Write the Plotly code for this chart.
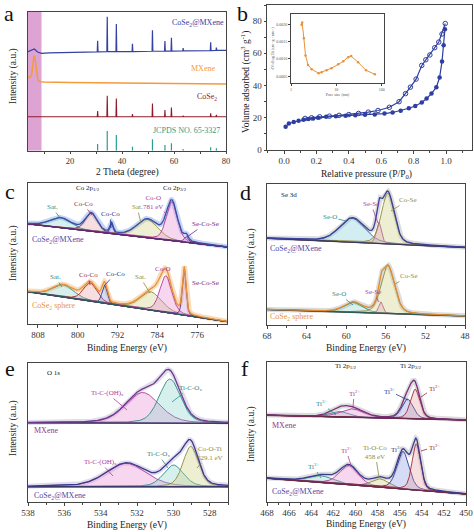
import numpy as np
import plotly.graph_objects as go

W, H = 474, 532
SERIF = "Liberation Serif"

# ---------------- (a) XRD data ----------------
xrd_cm_x = [3.8, 5.0, 6.2, 7.5, 9.0, 12.0, 20.0, 30.45, 30.6, 30.75, 34.15, 34.3, 34.45, 37.65, 37.8, 37.95,
            43.85, 44.0, 44.15, 51.55, 51.7, 51.85, 56.35, 56.5, 56.65, 58.85, 59.0, 59.15, 63.35, 63.5, 63.65,
            73.95, 74.1, 74.25, 76.15, 76.3, 76.45, 80.0]
xrd_cm_y = [71.4, 72.5, 73.3, 71.2, 70.2, 70.6, 71.0, 71.3, 79.2, 71.3, 71.4, 96.6, 71.4, 71.4, 91.4, 71.4,
            71.5, 77.0, 71.5, 71.7, 86.8, 71.7, 71.8, 79.0, 71.8, 71.8, 81.4, 71.8, 71.9, 73.9, 71.9,
            72.2, 78.2, 72.2, 72.3, 74.3, 72.3, 72.4]
xrd_mx_x = [3.8, 4.5, 5.2, 5.7, 6.1, 6.5, 7.0, 7.6, 8.5, 10.0, 20.0, 40.0, 60.0, 80.0]
xrd_mx_y = [53.4, 52.5, 55.0, 62.0, 68.7, 66.5, 58.0, 51.0, 49.8, 49.5, 49.1, 48.7, 48.4, 48.1]
xrd_cs_x = [3.8, 30.45, 30.6, 30.75, 34.15, 34.3, 34.45, 37.65, 37.8, 37.95, 43.85, 44.0, 44.15, 51.55, 51.7, 51.85,
            56.35, 56.5, 56.65, 58.85, 59.0, 59.15, 63.35, 63.5, 63.65, 73.95, 74.1, 74.25, 76.15, 76.3, 76.45, 80.0]
xrd_cs_y = [24.5, 24.5, 28.6, 24.5, 24.5, 39.6, 24.5, 24.5, 37.7, 24.5, 24.5, 26.4, 24.5, 24.5, 34.1, 24.5,
            24.5, 29.3, 24.5, 24.5, 31.2, 24.5, 24.5, 25.2, 24.5, 24.5, 26.9, 24.5, 24.5, 25.9, 24.5, 24.5]
pdf_pos = [30.6, 34.3, 37.8, 44.0, 51.7, 56.5, 59.0, 63.5, 74.1, 76.3]
pdf_h = [4.8, 14.2, 11.3, 2.9, 8.2, 4.1, 5.3, 1.2, 2.4, 1.7]

# ---------------- (b) BET data ----------------
ads_x = [0.01, 0.03, 0.06, 0.09, 0.12, 0.15, 0.18, 0.21, 0.26, 0.32, 0.38, 0.44, 0.5, 0.56, 0.62, 0.67,
         0.72, 0.77, 0.81, 0.85, 0.88, 0.91, 0.94, 0.96, 0.975, 0.985, 0.993]
ads_y = [14.5, 16.5, 17.4, 18.1, 18.7, 19.2, 19.6, 20.0, 20.6, 21.0, 21.3, 21.6, 21.9, 22.1, 22.6, 23.3,
         24.4, 25.9, 27.3, 29.5, 32.0, 35.0, 39.0, 45.0, 55.0, 65.0, 75.0]
des_x = [0.995, 0.975, 0.955, 0.93, 0.9, 0.875, 0.85, 0.815, 0.78, 0.75, 0.71, 0.65, 0.58, 0.52, 0.46,
         0.4, 0.34, 0.28, 0.22, 0.17, 0.13]
des_y = [78.5, 72.0, 67.0, 63.5, 59.0, 56.0, 52.5, 44.0, 39.0, 35.0, 30.0, 26.5, 24.5, 23.5, 22.7,
         22.0, 21.5, 21.0, 20.6, 20.0, 19.6]
pore_d = [1.71, 1.76, 1.92, 2.09, 2.38, 2.86, 4.06, 4.72, 6.06, 7.79, 11.0, 14.2, 18.2, 21.2, 30.1, 44.9, 70.5]
pore_v = [0.00199, 0.00205, 0.00160, 0.00110, 0.00082, 0.00070, 0.00058, 0.00061, 0.00067, 0.00073,
          0.00084, 0.00093, 0.00105, 0.00108, 0.00090, 0.00067, 0.00055]

# ---------------- XPS fitted components (centre eV, height, FWHM) ----------------
c_top_pos = [803.5, 797.3, 793.2, 786.0, 781.1, 778.2]
c_top_h = [7.0, 12.8, 7.0, 13.0, 27.5, 4.0]
c_top_w = [5.0, 2.8, 0.8, 5.0, 2.6, 1.0]
c_top_bg = [71.0, 54.6]
c_bot_pos = [802.9, 797.5, 794.6, 785.3, 782.3, 778.6]
c_bot_h = [8.7, 13.0, 12.9, 13.0, 26.0, 33.0]
c_bot_w = [5.0, 3.2, 1.2, 5.0, 2.8, 0.9]
c_bot_bg = [22.9, 1.7]

d_top_pos = [59.4, 56.7, 55.8]
d_top_h = [17.0, 15.0, 36.0]
d_top_w = [3.0, 0.6, 1.5]
d_top_bg = [61.5, 55.0]
d_bot_pos = [59.3, 56.5, 55.8]
d_bot_h = [7.0, 8.0, 34.0]
d_bot_w = [2.2, 0.5, 1.6]
d_bot_bg = [11.0, 6.4]

e_top_pos = [531.7, 530.2]
e_top_h = [22.0, 31.7]
e_top_w = [2.2, 1.4]
e_top_bg = [57.0, 56.6]
e_bot_pos = [532.6, 530.0, 529.05]
e_bot_h = [16.8, 15.6, 29.0]
e_bot_w = [2.6, 1.3, 1.0]
e_bot_bg = [11.0, 11.0]

f_top_pos = [461.5, 460.3, 455.3, 454.6]
f_top_h = [4.0, 6.0, 14.0, 21.0]
f_top_w = [2.0, 2.5, 1.2, 1.0]
f_top_bg = [62.0, 58.6]
f_bot_pos = [463.2, 460.6, 457.8, 455.7, 454.5]
f_bot_h = [5.0, 13.7, 6.0, 26.8, 33.0]
f_bot_w = [2.5, 2.0, 1.8, 1.3, 0.9]
f_bot_bg = [17.0, 5.7]

# colours (line, fill)
TEAL = ("#2E8B85", "rgba(120,205,200,0.30)")
RED = ("#A0283C", "rgba(230,150,150,0.30)")
NAVY = ("#2B3990", "rgba(120,140,225,0.30)")
OLIVE = ("#8C8C3C", "rgba(205,205,130,0.35)")
MAG = ("#B03A9A", "rgba(232,140,212,0.35)")
PURP = ("#6A2A8A", "rgba(190,140,220,0.30)")
SEO = ("#2A5F8F", "rgba(110,200,215,0.30)")

fig = go.Figure()


def pv(x, c, h, w, m=0.3):
    t = (x - c) / w
    return h * ((1 - m) * np.exp(-4 * np.log(2) * t * t) + m / (1 + 4 * t * t))


def spectrum(xa, ya, xr, bg, pos, hts, wid, cols, env, halo, bgc):
    x = np.linspace(xr[0], xr[1], 700)
    base = bg[0] + (bg[1] - bg[0]) * (x - xr[0]) / (xr[1] - xr[0])
    total = base.copy()
    comps = []
    for c, h, w in zip(pos, hts, wid):
        p = pv(x, c, h, w)
        comps.append(p)
        total = total + p
    fig.add_trace(go.Scatter(x=x, y=total, mode="lines", line=dict(color=halo, width=5),
                             xaxis=xa, yaxis=ya, hoverinfo="skip"))
    for p, col in zip(comps, cols):
        fig.add_trace(go.Scatter(x=np.concatenate([x, x[::-1]]), y=np.concatenate([base + p, base[::-1]]),
                                 mode="lines", fill="toself", fillcolor=col[1],
                                 line=dict(color=col[0], width=0.9), xaxis=xa, yaxis=ya, hoverinfo="skip"))
    fig.add_trace(go.Scatter(x=x, y=base, mode="lines", line=dict(color=bgc, width=1.4),
                             xaxis=xa, yaxis=ya, hoverinfo="skip"))
    fig.add_trace(go.Scatter(x=x, y=total, mode="lines", line=dict(color=env, width=1.3),
                             xaxis=xa, yaxis=ya, hoverinfo="skip"))


# ---- (a)
fig.add_trace(go.Scatter(x=xrd_cm_x, y=xrd_cm_y, mode="lines", line=dict(color="#3442A0", width=1.2), xaxis="x", yaxis="y"))
fig.add_trace(go.Scatter(x=xrd_mx_x, y=xrd_mx_y, mode="lines", line=dict(color="#F39A3C", width=1.5), xaxis="x", yaxis="y"))
fig.add_trace(go.Scatter(x=xrd_cs_x, y=xrd_cs_y, mode="lines", line=dict(color="#8E1C2C", width=1.1), xaxis="x", yaxis="y"))
sx, sy = [], []
for p, h in zip(pdf_pos, pdf_h):
    sx += [p, p, None]
    sy += [0, h, None]
fig.add_trace(go.Scatter(x=sx, y=sy, mode="lines", line=dict(color="#2A9D8F", width=1.2), xaxis="x", yaxis="y"))

# ---- (b)
fig.add_trace(go.Scatter(x=ads_x, y=ads_y, mode="lines+markers", line=dict(color="#2F3FA0", width=1.2),
                         marker=dict(symbol="circle", size=4.5, color="#2F3FA0"), xaxis="x2", yaxis="y2"))
fig.add_trace(go.Scatter(x=des_x, y=des_y, mode="lines+markers", line=dict(color="#2F3FA0", width=1.2),
                         marker=dict(symbol="circle-open", size=4.5, color="#2F3FA0", line=dict(width=1)),
                         xaxis="x2", yaxis="y2"))
fig.add_trace(go.Scatter(x=pore_d, y=pore_v, mode="lines+markers", line=dict(color="#E8923A", width=1),
                         marker=dict(size=2.5, color="#E8923A"), xaxis="x7", yaxis="y7"))

# ---- XPS panels
spectrum("x3", "y3", [810, 770], c_top_bg, c_top_pos, c_top_h, c_top_w, [TEAL, RED, NAVY, OLIVE, MAG, PURP],
         "#3B4BA6", "rgba(150,180,235,0.55)", "#5A2A6A")
spectrum("x3", "y3", [810, 770], c_bot_bg, c_bot_pos, c_bot_h, c_bot_w, [TEAL, RED, NAVY, OLIVE, MAG, PURP],
         "#E8913A", "rgba(245,185,120,0.5)", "#2F5A5A")
spectrum("x4", "y4", [68, 48], d_top_bg, d_top_pos, d_top_h, d_top_w, [SEO, MAG, OLIVE],
         "#3B3F9E", "rgba(185,185,185,0.5)", "#3A3A5A")
spectrum("x4", "y4", [68, 48], d_bot_bg, d_bot_pos, d_bot_h, d_bot_w, [TEAL, MAG, OLIVE],
         "#E08A30", "rgba(185,185,185,0.5)", "#2F5A5A")
spectrum("x5", "y5", [538, 527], e_top_bg, e_top_pos, e_top_h, e_top_w, [MAG, TEAL],
         "#6B3A8E", "rgba(195,185,215,0.5)", "#5A2A6A")
spectrum("x5", "y5", [538, 527], e_bot_bg, e_bot_pos, e_bot_h, e_bot_w, [MAG, TEAL, OLIVE],
         "#3A3A8E", "rgba(195,185,215,0.5)", "#3A3A6A")
spectrum("x6", "y6", [468, 450], f_top_bg, f_top_pos, f_top_h, f_top_w, [TEAL, MAG, NAVY, RED],
         "#7A2F7A", "rgba(185,185,185,0.5)", "#6A2A4A")
spectrum("x6", "y6", [468, 450], f_bot_bg, f_bot_pos, f_bot_h, f_bot_w, [TEAL, MAG, OLIVE, NAVY, RED],
         "#3A3A8E", "rgba(185,185,185,0.5)", "#6A2A4A")


# ---------------- layout ----------------
def dom(p0, p1):
    return [p0 / W, p1 / W]


def vdom(top, bot):
    return [1 - bot / H, 1 - top / H]


TF = dict(family=SERIF, size=9, color="#333")


def xax(domain, anchor, rng, **kw):
    d = dict(domain=domain, anchor=anchor, range=rng, showline=True, linecolor="#444", linewidth=1, mirror=True,
             showgrid=False, zeroline=False, ticks="outside", ticklen=2.5, tickcolor="#444", tickfont=TF)
    d.update(kw)
    return d


def yax_blank(domain, anchor):
    return dict(domain=domain, anchor=anchor, range=[0, 100], showline=True, linecolor="#444", linewidth=1,
                mirror=True, showgrid=False, zeroline=False, showticklabels=False, ticks="")


MINOR = lambda dt: dict(ticks="outside", ticklen=1.8, dtick=dt, tickcolor="#444")

layout = dict(
    width=W, height=H, margin=dict(l=0, r=0, t=0, b=0, autoexpand=False), showlegend=False,
    paper_bgcolor="white", plot_bgcolor="white",
    xaxis=xax(dom(28, 226), "y", [3.8, 80], tickvals=[20, 40, 60, 80], minor=MINOR(10),
              tickfont=dict(family=SERIF, size=8.5, color="#333")),
    yaxis=yax_blank(vdom(12, 150.7), "x"),
    xaxis2=xax(dom(267, 472), "y2", [-0.105, 1.16], tickvals=[0, 0.2, 0.4, 0.6, 0.8, 1.0],
               ticktext=["0.0", "0.2", "0.4", "0.6", "0.8", "1.0"], minor=MINOR(0.1)),
    yaxis2=xax(vdom(5, 150), "x2", [0, 90], tickvals=[0, 20, 40, 60, 80], minor=MINOR(10)),
    xaxis3=xax(dom(28, 227), "y3", [810, 770], tickvals=[808, 800, 792, 784, 776], minor=MINOR(4)),
    yaxis3=yax_blank(vdom(183, 324), "x3"),
    xaxis4=xax(dom(267, 465), "y4", [68, 48], tickvals=[68, 64, 60, 56, 52, 48], minor=MINOR(2)),
    yaxis4=yax_blank(vdom(184, 325), "x4"),
    xaxis5=xax(dom(28, 228), "y5", [538, 527], tickvals=[538, 536, 534, 532, 530, 528], minor=MINOR(1)),
    yaxis5=yax_blank(vdom(363, 502), "x5"),
    xaxis6=xax(dom(267, 466), "y6", [468, 450], tickvals=list(range(468, 449, -2)), minor=MINOR(1)),
    yaxis6=yax_blank(vdom(362, 502), "x6"),
    xaxis7=xax(dom(291, 384), "y7", [0, 2.05], type="log", tickvals=[1, 10, 100], ticktext=["1", "10", "100"],
               ticklen=2, tickfont=dict(family=SERIF, size=4, color="#555"), linewidth=0.8,
               title=dict(text="Pore size (nm)", font=dict(family=SERIF, size=4, color="#555"), standoff=1)),
    yaxis7=xax(vdom(14, 83), "x7", [0.0003, 0.0023], tickvals=[0.0005, 0.001, 0.0015, 0.002],
               ticktext=["0.0005", "0.0010", "0.0015", "0.0020"], ticklen=2, linewidth=0.8,
               tickfont=dict(family=SERIF, size=4, color="#555"),
               title=dict(text="dV/dlog(D) (cm<sup>3</sup> g<sup>-1</sup> nm<sup>-1</sup>)",
                          font=dict(family=SERIF, size=4, color="#555"), standoff=1)),
)

ann = []


def lab(text, px, py, color="#222", size=7, tip=None, xanchor="center", angle=0):
    d = dict(text=text, xref="paper", yref="paper", font=dict(family=SERIF, size=size, color=color),
             xanchor=xanchor, yanchor="middle", textangle=angle)
    if tip is not None:
        d.update(x=tip[0] / W, y=1 - tip[1] / H, ax=px - tip[0], ay=py - tip[1], axref="pixel", ayref="pixel",
                 showarrow=True, arrowhead=0, arrowwidth=0.8, arrowcolor=color, standoff=0, startstandoff=0)
    else:
        d.update(x=px / W, y=1 - py / H, showarrow=False)
    ann.append(d)


# panel letters
for t, px, py in [("a", 9, 14), ("b", 243, 14), ("c", 10, 191), ("d", 245, 192), ("e", 10, 368), ("f", 245, 368)]:
    lab(t, px, py, "#111", 22)

# axis titles
lab("2 Theta (degree)", 127, 172.5, "#222", 9.5)
lab("Relative pressure (P/P<sub>0</sub>)", 366, 174, "#222", 9.5)
lab("Binding Energy (eV)", 127, 348, "#222", 9.5)
lab("Binding Energy (eV)", 366, 348, "#222", 9.5)
lab("Binding Energy (eV)", 127, 525, "#222", 9.5)
lab("Binding Energy (eV)", 366, 524, "#222", 9.5)
lab("Intensity (a.u.)", 14, 76, "#222", 9.5, angle=-90)
lab("Volume adsorbed (cm<sup>3</sup> g<sup>-1</sup>)", 245, 82, "#222", 9.5, angle=-90)
lab("Intensity (a.u.)", 13, 253, "#222", 9.5, angle=-90)
lab("Intensity (a.u.)", 251, 256, "#222", 9.5, angle=-90)
lab("Intensity (a.u.)", 13, 428, "#222", 9.5, angle=-90)
lab("Intensity (a.u.)", 251, 434, "#222", 9.5, angle=-90)

# (a) labels
lab("CoSe<sub>2</sub>@MXene", 198, 23, "#3442A0", 8)
lab("MXene", 203, 68, "#F39A3C", 8)
lab("CoSe<sub>2</sub>", 207, 97, "#8E1C2C", 8)
lab("JCPDS NO. 65-3327", 186, 130, "#2A9D8F", 8)

# (c) labels
lab("Co 2p<sub>1/2</sub>", 88, 188, "#222", 7)
lab("Co 2p<sub>3/2</sub>", 175, 188, "#222", 7)
lab("Sat.", 52, 207, TEAL[0], 7, tip=(60, 218))
lab("Co-Co", 83, 204, RED[0], 7, tip=(92, 215))
lab("Co-Co", 110, 214, NAVY[0], 7, tip=(111, 228))
lab("Sat.", 137, 207, OLIVE[0], 7, tip=(141, 223))
lab("Co-O<br>781 eV", 153, 202, MAG[0], 7, tip=(165, 213))
lab("Se-Co-Se", 205, 224, PURP[0], 7, tip=(187, 237))
lab("CoSe<sub>2</sub>@MXene", 30, 240, "#4A4AA8", 8, xanchor="left")
lab("Sat.", 55, 277, TEAL[0], 7, tip=(62, 287))
lab("Co-Co", 88, 275, RED[0], 7, tip=(90, 285))
lab("Co-Co", 115, 274, NAVY[0], 7, tip=(104, 286))
lab("Sat.", 140, 277, OLIVE[0], 7, tip=(150, 293))
lab("Co-O", 163, 269, MAG[0], 7)
lab("Se-Co-Se", 205, 283, PURP[0], 7, tip=(190, 287))
lab("CoSe<sub>2</sub> sphere", 30, 306, "#E8963A", 8, xanchor="left")

# (d) labels
lab("Se 3d", 289, 195, "#222", 7)
lab("Se-O", 330, 217, TEAL[0], 7, tip=(346, 221))
lab("Se-Se", 371, 204, MAG[0], 7, tip=(378, 223))
lab("Co-Se", 408, 200, OLIVE[0], 7, tip=(391, 211))
lab("CoSe<sub>2</sub>@MXene", 268, 249, "#4A4AA8", 8, xanchor="left")
lab("Se-O", 339, 294, TEAL[0], 7, tip=(353, 305))
lab("Se-Se", 373, 292, MAG[0], 7, tip=(379, 302))
lab("Co-Se", 409, 276, OLIVE[0], 7, tip=(395, 284))
lab("CoSe<sub>2</sub> sphere", 268, 317, "#E8963A", 8, xanchor="left")

# (e) labels
lab("O 1s", 53, 373, "#222", 7)
lab("Ti-C-(OH)<sub>x</sub>", 107, 393, MAG[0], 7, tip=(127, 410))
lab("Ti-C-O<sub>x</sub>", 190, 388, TEAL[0], 7, tip=(172, 402))
lab("MXene", 32, 430, "#8A3A8A", 8, xanchor="left")
lab("Ti-C-(OH)<sub>x</sub>", 100, 462, MAG[0], 7, tip=(113, 476))
lab("Ti-C-O<sub>x</sub>", 158, 454, TEAL[0], 7, tip=(168, 468))
lab("Co-O-Ti<br>529.1 eV", 210, 453, OLIVE[0], 7, tip=(197, 468))
lab("CoSe<sub>2</sub>@MXene", 32, 496, "#4A4AA8", 8, xanchor="left")

# (f) labels
lab("Ti 2p<sub>1/2</sub>", 346, 366, "#222", 7)
lab("Ti 2p<sub>3/2</sub>", 411, 366, "#222", 7)
lab("Ti<sup>3+</sup>", 321, 403, TEAL[0], 7, tip=(336, 415))
lab("Ti<sup>2+</sup>", 354, 393, MAG[0], 7, tip=(353, 408))
lab("Ti<sup>3+</sup>", 389, 391, NAVY[0], 7, tip=(408, 400))
lab("Ti<sup>2+</sup>", 434, 388, RED[0], 7, tip=(421, 397))
lab("MXene", 270, 425, "#8A3A8A", 8, xanchor="left")
lab("Ti<sup>3+</sup>", 313, 466, TEAL[0], 7, tip=(321, 478))
lab("Ti<sup>2+</sup>", 346, 450, MAG[0], 7, tip=(351, 465))
lab("Ti-O-Co<br>458 eV", 375, 452, OLIVE[0], 7, tip=(379, 477))
lab("Ti<sup>3+</sup>", 396, 449, NAVY[0], 7, tip=(401, 456))
lab("Ti<sup>2+</sup>", 434, 447, RED[0], 7, tip=(421, 451))
lab("CoSe<sub>2</sub>@MXene", 270, 492, "#4A4AA8", 8, xanchor="left")

layout["annotations"] = ann
layout["shapes"] = [dict(type="rect", xref="x", yref="y", x0=3.8, x1=9.0, y0=0, y1=100,
                         fillcolor="#DCA3D3", line=dict(width=0), layer="below")]
fig.update_layout(**layout)
fig.write_html("out.html", config={"displayModeBar": False},
               post_script="document.body.style.margin='0';document.body.style.overflow='hidden';")
